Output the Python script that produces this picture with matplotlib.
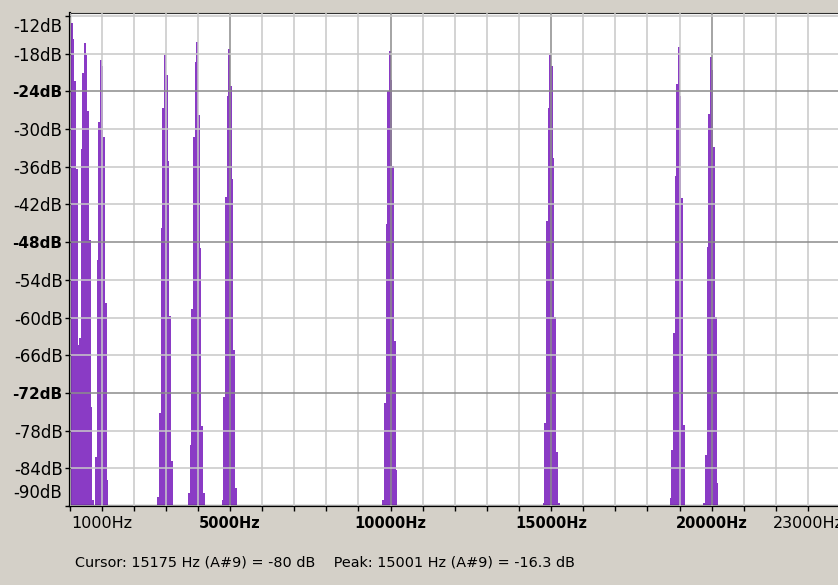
import matplotlib
matplotlib.use("Agg")
import matplotlib.pyplot as plt
import matplotlib.ticker as mticker
import numpy as np

# spectrum data
bin_hz = 52
tone_hz = [100, 500, 1000, 3000, 4000, 5000, 10000, 15000, 19000, 20000]
profiles_db = [
    [-13.6, -13.1, -15.7, -22.3, -36.4, -64.3, -84.8],
    [-63.2, -33.1, -21.0, -16.3, -18.2, -27.1, -47.7, -74.2, -89.0],
    [-82.2, -50.8, -28.8, -19.0, -20.0, -31.2, -57.7, -85.9],
    [-88.5, -75.2, -45.8, -26.7, -18.2, -21.4, -35.0, -59.7, -82.9],
    [-87.9, -80.3, -58.6, -31.2, -19.3, -16.2, -27.8, -48.9, -77.3, -87.9],
    [-89.0, -72.6, -40.8, -24.7, -17.3, -23.1, -37.9, -65.2, -87.2],
    [-89.0, -73.6, -45.1, -23.9, -17.6, -22.2, -35.8, -63.8, -84.3],
    [-89.5, -76.8, -44.7, -26.7, -18.2, -20.0, -34.6, -59.9, -81.4, -89.5],
    [-88.8, -81.1, -62.5, -37.4, -22.9, -16.9, -24.7, -41.0, -77.1],
    [-89.5, -81.9, -48.7, -27.6, -18.5, -20.6, -32.9, -59.9, -86.3],
]

x_major = [5000, 10000, 15000, 20000]
x_minor = list(range(0, 24000, 1000))
x_minor_labels = {1000: "1000Hz", 23000: "23000Hz"}
y_major = [-24, -48, -72]
y_minor = [-12, -18, -30, -36, -42, -54, -60, -66, -78, -84, -90]

bg = "#D4D0C8"
purple = "#8A3BC5"

fig = plt.figure(figsize=(8.38, 5.85), dpi=100, facecolor=bg)
ax = fig.add_axes([69.5 / 838, 79 / 585, 768.5 / 838, 493.3 / 585])
ax.set_facecolor("white")

# bars of each tone, peak bin sits just below the tone frequency
for f, prof in zip(tone_hz, profiles_db):
    k = int(np.argmax(prof))
    edges = f + (np.arange(len(prof) + 1) - k - 1) * bin_hz
    edges = np.clip(edges, 0, None)
    ax.stairs(prof, edges, baseline=-100, fill=True, color=purple, lw=0)

ax.set_xlim(0, 23933)
ax.set_ylim(-90, -11.47)

ax.xaxis.set_major_locator(mticker.FixedLocator(x_major))
ax.xaxis.set_minor_locator(mticker.FixedLocator([v for v in x_minor if v not in x_major]))
ax.xaxis.set_major_formatter(mticker.FuncFormatter(lambda v, p: f"{int(v)}Hz"))
ax.xaxis.set_minor_formatter(mticker.FuncFormatter(lambda v, p: x_minor_labels.get(int(round(v)), "")))

ax.yaxis.set_major_locator(mticker.FixedLocator(y_major))
ax.yaxis.set_minor_locator(mticker.FixedLocator(y_minor))
ax.yaxis.set_major_formatter(mticker.FuncFormatter(lambda v, p: f"{int(v)}dB"))
ax.yaxis.set_minor_formatter(mticker.FuncFormatter(
    lambda v, p: "" if int(round(v)) in (-12, -90) else f"{int(round(v))}dB"))

ax.grid(which="minor", color="#C8C8C8", lw=1.1)
ax.grid(which="major", color="#8C8C8C", lw=1.1)
ax.set_axisbelow(False)

ax.tick_params(which="both", direction="out", length=3.5, width=1, color="black")
ax.tick_params(axis="y", which="both", pad=1.5)
ax.tick_params(axis="x", which="both", pad=3.5)
ax.tick_params(axis="x", which="major", labelsize=10.5)
ax.tick_params(axis="x", which="minor", labelsize=11.5)
ax.tick_params(axis="y", which="major", labelsize=11)
ax.tick_params(axis="y", which="minor", labelsize=12)
plt.setp(ax.get_xticklabels(which="major"), fontweight="bold")
plt.setp(ax.get_yticklabels(which="major"), fontweight="bold")

# end labels shifted inside like the ruler does
ax.annotate("-12dB", xy=(0, -12), xycoords=("axes fraction", "data"),
            xytext=(-7.5, -1.5), textcoords="offset pixels",
            ha="right", va="top", fontsize=12)
ax.annotate("-90dB", xy=(0, -90), xycoords=("axes fraction", "data"),
            xytext=(-7.5, 4), textcoords="offset pixels",
            ha="right", va="bottom", fontsize=12)

for side in ("left", "bottom"):
    ax.spines[side].set_linewidth(1.6)
    ax.spines[side].set_color("black")
ax.spines["top"].set_linewidth(0.8)
ax.spines["top"].set_color("#303030")
ax.spines["right"].set_visible(False)

fig.text(75 / 838, 1 - 563 / 585,
         "Cursor: 15175 Hz (A#9) = -80 dB    Peak: 15001 Hz (A#9) = -16.3 dB",
         ha="left", va="center", fontsize=10.4)

fig.savefig("out.png", dpi=100, facecolor=bg)
